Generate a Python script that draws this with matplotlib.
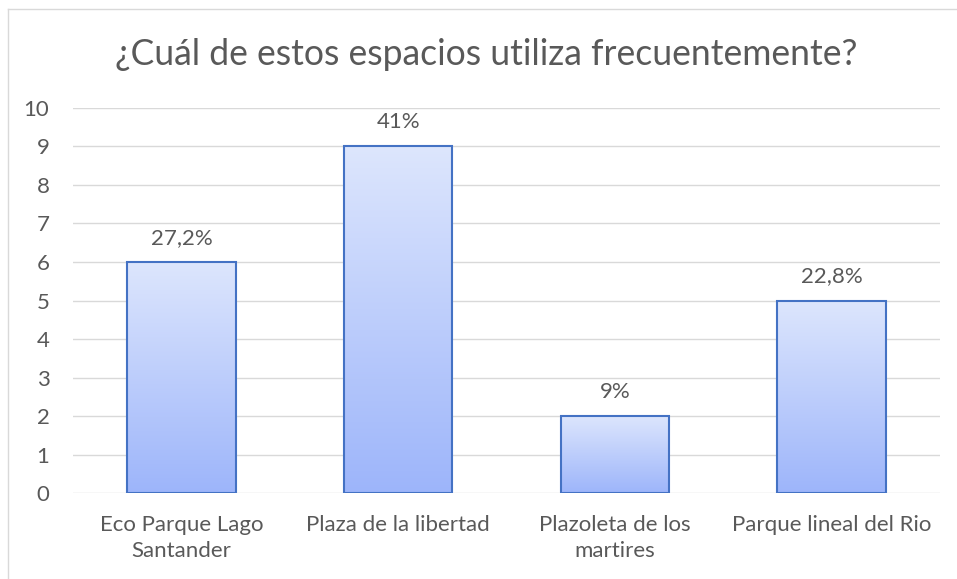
import numpy as np
import matplotlib.pyplot as plt
from matplotlib.colors import LinearSegmentedColormap
from matplotlib.lines import Line2D

categorias = ["Eco Parque Lago\nSantander", "Plaza de la libertad",
              "Plazoleta de los\nmartires", "Parque lineal del Rio"]
valores = [6, 9, 2, 5]
etiquetas = ["27,2%", "41%", "9%", "22,8%"]

gris = "#595959"
plt.rcParams['font.family'] = ['Lato', 'DejaVu Sans']

fig = plt.figure(figsize=(9.57, 5.79), dpi=100)
ax = fig.add_axes([0.0763, 0.1485, 0.9059, 0.665])

# degradado de las barras (claro arriba, azul abajo)
cmap = LinearSegmentedColormap.from_list("azul", ["#9db5fa", "#dde6fd"])
grad = np.linspace(0, 1, 256).reshape(-1, 1)

x = np.arange(len(categorias))
ancho = 0.5
barras = ax.bar(x, valores, width=ancho, color="none", edgecolor="#4472c4",
                linewidth=1.5, zorder=3)
for b in barras:
    x0 = b.get_x()
    h = b.get_height()
    im = ax.imshow(grad, extent=[x0, x0 + ancho, 0, h], aspect="auto",
                   cmap=cmap, origin="lower", zorder=2)
    im.set_clip_path(b)

for xi, v, t in zip(x, valores, etiquetas):
    ax.text(xi, v + 0.47, t, ha="center", va="baseline", fontsize=16, color=gris)

ax.set_xlim(-0.5, len(categorias) - 0.5)
ax.set_ylim(0, 10)
ax.set_yticks(range(0, 11))
ax.set_xticks(x)
ax.set_xticklabels(categorias, linespacing=1.35)
ax.yaxis.grid(True, color="#d9d9d9", linewidth=1)
ax.set_axisbelow(True)
for s in ax.spines.values():
    s.set_visible(False)
ax.tick_params(axis="both", length=0, labelsize=16, colors=gris)
ax.tick_params(axis="y", pad=17)
ax.tick_params(axis="x", pad=16)

fig.text(486.5 / 957, 1 - 65 / 579, "¿Cuál de estos espacios utiliza frecuentemente?",
         ha="center", va="baseline", fontsize=25.6, color=gris)

# borde del gráfico (solo visible arriba e izquierda)
fig.add_artist(Line2D([8 / 957, 8 / 957], [0, 1 - 9 / 579], color="#d9d9d9", lw=1))
fig.add_artist(Line2D([8 / 957, 1], [1 - 9 / 579, 1 - 9 / 579], color="#d9d9d9", lw=1))

fig.savefig("out.png", dpi=100)
